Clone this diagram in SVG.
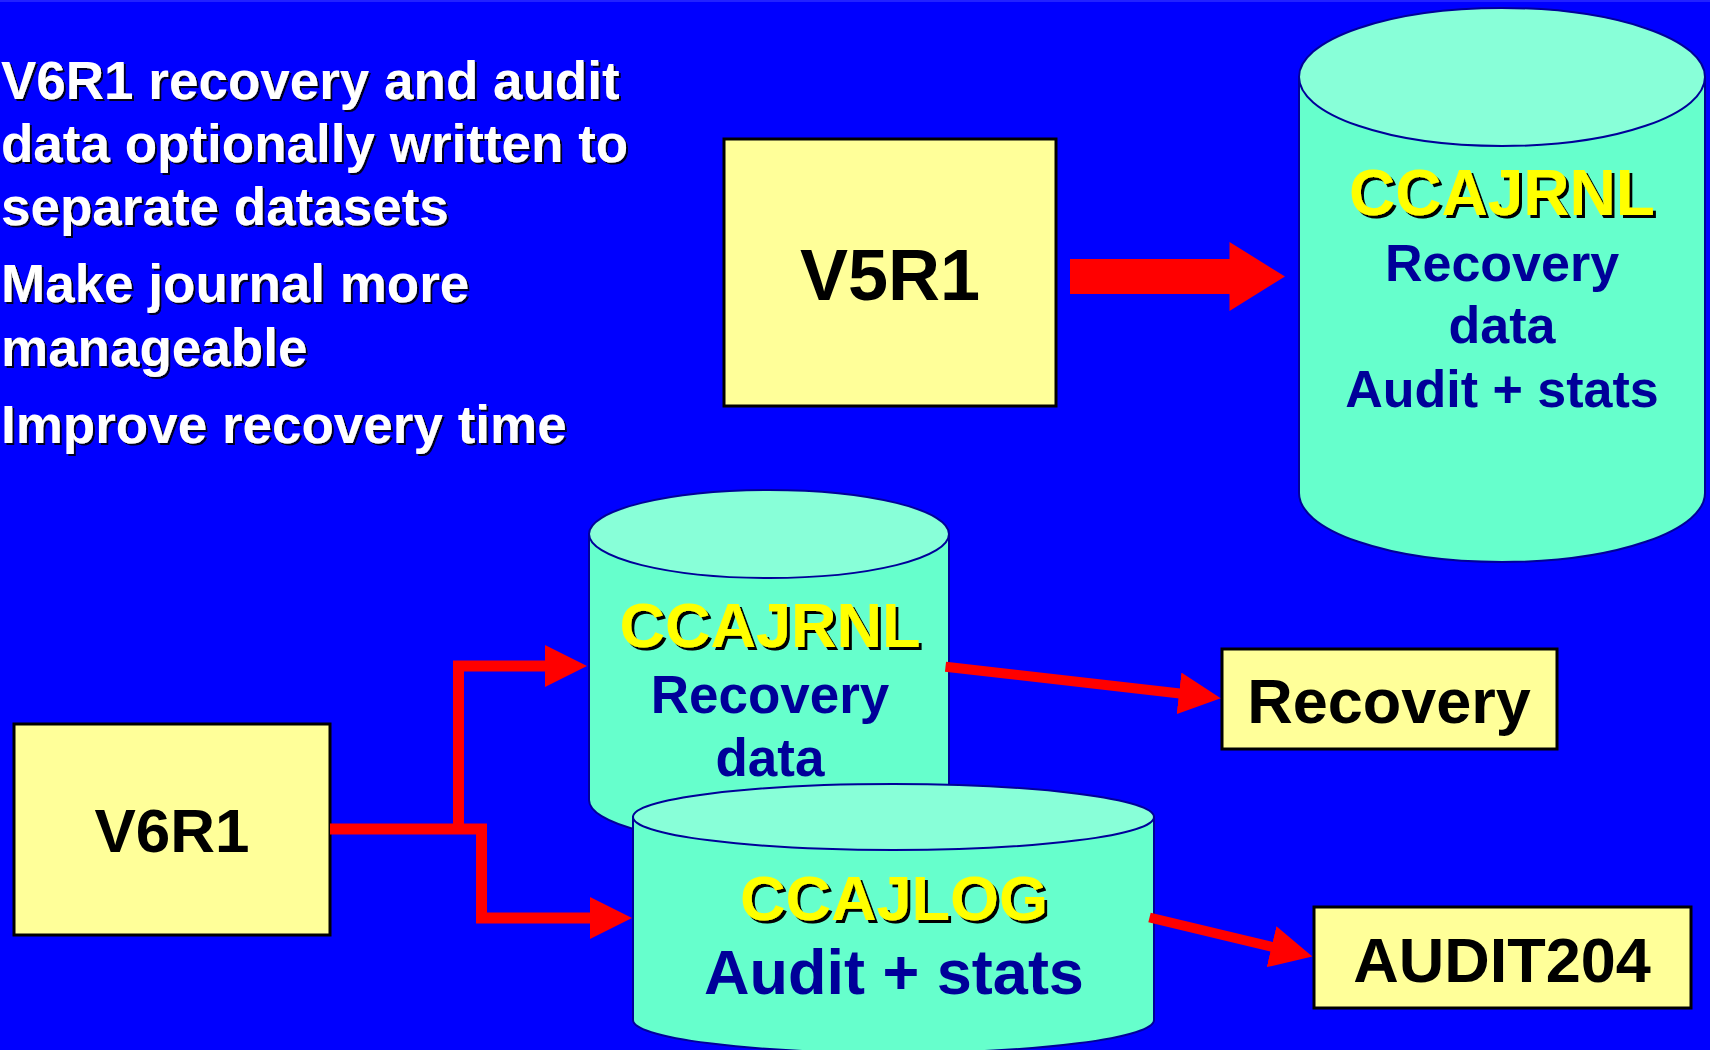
<svg xmlns="http://www.w3.org/2000/svg" width="1710" height="1050" viewBox="0 0 1710 1050">
  <defs>
    <style>
      .bullet { font-family: "Liberation Sans", Arial, sans-serif; font-weight: bold; font-size: 53px; fill: #FFFFFF; filter: url(#shadowSmall); }
      .box { fill: #FFFF99; stroke: #000000; stroke-width: 3; }
      .boxText { font-family: "Liberation Sans", Arial, sans-serif; font-weight: bold; fill: #000000; text-anchor: middle; }
      .cylBody { fill: #66FFCC; stroke: #000099; stroke-width: 2; }
      .cylTop { fill: #88FFD8; stroke: #000099; stroke-width: 2; }
      .dsName { font-family: "Liberation Sans", Arial, sans-serif; font-weight: bold; fill: #FFFF00; text-anchor: middle; filter: url(#shadowBig); }
      .dsText { font-family: "Liberation Sans", Arial, sans-serif; font-weight: bold; fill: #000099; text-anchor: middle; }
      .wire { fill: none; stroke: #FF0000; stroke-width: 11; stroke-linejoin: miter; }
      .wireArrow { fill: none; stroke: #FF0000; stroke-width: 10; marker-end: url(#head); }
    </style>
    <filter id="shadowSmall" x="-5%" y="-20%" width="110%" height="150%">
      <feDropShadow dx="2" dy="2" stdDeviation="0" flood-color="#000022"/>
    </filter>
    <filter id="shadowBig" x="-5%" y="-20%" width="110%" height="150%">
      <feDropShadow dx="3" dy="3" stdDeviation="0" flood-color="#000000"/>
    </filter>
    <marker id="head" viewBox="0 0 42 42" refX="1" refY="21" markerWidth="42" markerHeight="42" markerUnits="userSpaceOnUse" orient="auto">
      <path d="M0,0 L42,21 L0,42 Z" fill="#FF0000"/>
    </marker>
  </defs>

  <!-- background -->
  <rect x="0" y="0" width="1710" height="1050" fill="#0000FF"/>
  <rect x="0" y="0" width="1710" height="2" fill="#2222FF"/>

  <!-- bullet text -->
  <g id="bullets">
    <text class="bullet" x="1" y="99">V6R1 recovery and audit</text>
    <text class="bullet" x="1" y="162">data optionally written to</text>
    <text class="bullet" x="1" y="225">separate datasets</text>
    <text class="bullet" x="1" y="302">Make journal more</text>
    <text class="bullet" x="1" y="366">manageable</text>
    <text class="bullet" x="1" y="443">Improve recovery time</text>
  </g>

  <!-- V5R1 source -->
  <g id="v5r1">
    <rect class="box" x="724" y="139" width="332" height="267"/>
    <text class="boxText" x="890" y="300" font-size="72">V5R1</text>
  </g>

  <!-- V5R1 single journal dataset -->
  <g id="ccajrnl-v5">
    <path class="cylBody" d="M1299,77 L1299,493 A203,69 0 0 0 1705,493 L1705,77 Z"/>
    <ellipse class="cylTop" cx="1502" cy="77" rx="203" ry="69"/>
    <text class="dsName" x="1502" y="215" font-size="64">CCAJRNL</text>
    <text class="dsText" x="1502" y="281" font-size="52">Recovery</text>
    <text class="dsText" x="1502" y="343" font-size="52">data</text>
    <text class="dsText" x="1502" y="407" font-size="52">Audit + stats</text>
  </g>

  <!-- V6R1 source -->
  <g id="v6r1">
    <rect class="box" x="14" y="724" width="316" height="211"/>
    <text class="boxText" x="172" y="852" font-size="62">V6R1</text>
  </g>

  <!-- V6R1 recovery journal -->
  <g id="ccajrnl-v6">
    <path class="cylBody" d="M589,534 L589,800 A180,44 0 0 0 949,800 L949,534 Z"/>
    <ellipse class="cylTop" cx="769" cy="534" rx="180" ry="44"/>
    <text class="dsName" x="770" y="647" font-size="63">CCAJRNL</text>
    <text class="dsText" x="770" y="713" font-size="53">Recovery</text>
    <text class="dsText" x="770" y="776" font-size="53">data</text>
  </g>

  <!-- V6R1 audit log -->
  <g id="ccajlog">
    <path class="cylBody" d="M633,817 L633,1020 A260.5,33 0 0 0 1154,1020 L1154,817 Z"/>
    <ellipse class="cylTop" cx="893.5" cy="817" rx="260.5" ry="33"/>
    <text class="dsName" x="894" y="920" font-size="63">CCAJLOG</text>
    <text class="dsText" x="894" y="994" font-size="63">Audit + stats</text>
  </g>

  <!-- outputs -->
  <g id="recovery">
    <rect class="box" x="1222" y="649" width="335" height="100"/>
    <text class="boxText" x="1389" y="723" font-size="63">Recovery</text>
  </g>
  <g id="audit204">
    <rect class="box" x="1314" y="907" width="377" height="101"/>
    <text class="boxText" x="1502" y="982" font-size="63">AUDIT204</text>
  </g>

  <!-- connectors -->
  <g id="connectors">
    <polygon points="1070,259 1229.5,259 1229.5,242 1285,276.5 1229.5,311 1229.5,294 1070,294" fill="#FF0000"/>
    <polyline class="wire" points="330,829 481.5,829 481.5,918 591,918" marker-end="url(#head)"/>
    <polyline class="wire" points="458.5,829 458.5,666 546,666" marker-end="url(#head)"/>
    <line class="wireArrow" x1="945.5" y1="666.7" x2="1180" y2="693.5"/>
    <line class="wireArrow" x1="1149.5" y1="917.5" x2="1272.5" y2="947"/>
  </g>
</svg>
